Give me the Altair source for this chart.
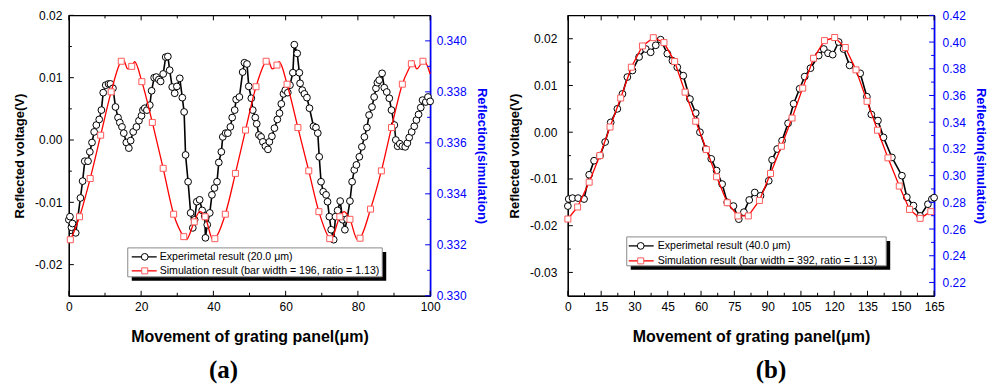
import altair as alt
import pandas as pd

FONT = "Liberation Sans"
SERIF = "Liberation Serif"
BLUE = "#0000ff"
RED = "#ff0000"
SQ = "#ff5a5a"

# ---------------- panel (a) ----------------
exp_a_x = [0.0, 0.3, 0.7, 1.0, 1.9, 3.2, 3.8, 4.4, 5.3, 5.8, 6.4, 7.0, 7.6, 8.4, 9.0, 9.5, 10.2, 11.0, 11.5, 12.2,
           12.9, 13.6, 14.1, 14.7, 15.2, 15.9, 16.6, 17.1, 17.8, 18.7, 19.4, 20.1, 20.5, 21.0, 21.6, 22.4, 22.9, 23.6,
           24.2, 24.9, 25.4, 26.1, 26.8, 27.4, 27.9, 28.6, 29.3, 29.9, 30.7, 31.4, 31.9, 32.3, 33.0, 33.7, 34.3, 34.8,
           35.4, 36.2, 36.9, 37.6, 37.8, 38.3, 39.0, 39.6, 40.3, 41.0, 41.5, 42.2, 42.6, 43.4, 44.0, 44.7, 45.2, 45.9,
           46.3, 47.2, 48.1, 48.6, 49.3, 49.8, 50.5, 50.9, 51.6, 52.0, 52.6, 53.2, 53.7, 54.4, 55.1, 55.5, 56.2, 56.9,
           57.7, 58.3, 58.8, 59.4, 59.9, 60.6, 61.2, 62.0, 62.4, 63.2, 63.8, 64.0, 64.6, 65.2, 65.9, 66.6, 67.7, 68.4,
           68.9, 69.3, 69.8, 70.4, 71.2, 71.6, 72.1, 72.6, 73.3, 73.8, 74.4, 75.1, 75.8, 76.4, 77.0, 77.8, 78.4, 79.0,
           79.6, 80.4, 81.1, 81.8, 82.5, 83.1, 83.9, 84.5, 85.0, 85.4, 85.9, 86.7, 87.3, 88.0, 88.7, 89.3, 90.1, 90.5,
           91.0, 91.6, 92.3, 93.1, 93.7, 94.2, 94.9, 95.6, 96.2, 96.8, 97.4, 97.9, 98.8, 99.4, 100.0]
exp_a_y = [-0.0128, -0.0123, -0.0140, -0.0134, -0.0149, -0.0093, -0.0066, -0.0034, -0.0034, -0.0019, -0.0004, 0.0013,
           0.0024, 0.0033, 0.0048, 0.0076, 0.0088, 0.0090, 0.0090, 0.0083, 0.0053, 0.0036, 0.0028, 0.0021, 0.0011,
           -0.0004, -0.0013, -0.0001, 0.0013, 0.0021, 0.0031, 0.0039, 0.0048, 0.0051, 0.0048, 0.0056, 0.0079, 0.0100,
           0.0101, 0.0097, 0.0094, 0.0106, 0.0133, 0.0134, 0.0112, 0.0085, 0.0075, 0.0086, 0.0099, 0.0068, 0.0045,
           -0.0024, -0.0067, -0.0117, -0.0141, -0.0128, -0.0099, -0.0096, -0.0113, -0.0122, -0.0157, -0.0136, -0.0117,
           -0.0088, -0.0077, -0.0067, -0.0036, -0.0019, 0.0005, 0.0011, 0.0011, 0.0021, 0.0036, 0.0048, 0.0065, 0.0069,
           0.0109, 0.0124, 0.0122, 0.0086, 0.0067, 0.0048, 0.0036, 0.0026, 0.0008, 0.0005, -0.0003, -0.0010, -0.0015,
           -0.0003, 0.0006, 0.0019, 0.0033, 0.0043, 0.0058, 0.0074, 0.0080, 0.0076, 0.0088, 0.0108, 0.0153, 0.0139,
           0.0108, 0.0091, 0.0080, 0.0074, 0.0068, 0.0051, 0.0022, 0.0020, 0.0011, -0.0027, -0.0067, -0.0083, -0.0088,
           -0.0099, -0.0123, -0.0144, -0.0160, -0.0123, -0.0113, -0.0098, -0.0128, -0.0144, -0.0127, -0.0098, -0.0067,
           -0.0048, -0.0040, -0.0027, -0.0011, 0.0005, 0.0020, 0.0040, 0.0053, 0.0069, 0.0083, 0.0092, 0.0096, 0.0107,
           0.0084, 0.0077, 0.0067, 0.0048, 0.0024, 0.0000, -0.0010, -0.0006, -0.0010, -0.0011, -0.0005, 0.0004, 0.0013,
           0.0022, 0.0032, 0.0041, 0.0052, 0.0064, 0.0061, 0.0069, 0.0062]

sim_a_line_x = [0.0, 0.4, 2.95, 5.9, 8.8, 11.7, 14.5, 15.1, 16.3, 17.4, 18.2, 20.2, 23.1, 26.1, 29.0, 31.8, 32.5,
                34.7, 36.2, 37.7, 39.9, 40.4, 43.3, 46.1, 48.9, 51.8, 54.6, 55.1, 56.3, 57.6, 58.2, 60.4, 63.4, 66.4,
                69.2, 72.2, 72.5, 75.0, 76.2, 77.8, 79.9, 80.6, 83.5, 86.5, 89.3, 92.3, 94.8, 95.2, 96.3, 98.0, 98.3,
                100.0]
sim_a_line_y = [0.3321, 0.3322, 0.3331, 0.3346, 0.3363, 0.3380, 0.3392, 0.33925, 0.3389, 0.3390, 0.33918, 0.3384,
                0.3368, 0.3350, 0.3332, 0.33232, 0.3322, 0.3329, 0.3333, 0.3331, 0.3322, 0.33224, 0.3332, 0.3348,
                0.3365, 0.3382, 0.3392, 0.33925, 0.3389, 0.33905, 0.33918, 0.3383, 0.3366, 0.3349, 0.3333, 0.33224,
                0.3322, 0.3331, 0.3333, 0.3330, 0.3322, 0.33226, 0.3334, 0.3349, 0.3366, 0.3383, 0.3391, 0.33922,
                0.3389, 0.3392, 0.33922, 0.3387]
sim_a_mark_x = [0.4, 2.95, 5.9, 8.8, 11.7, 14.5, 17.4, 20.2, 23.1, 26.1, 29.0, 31.8, 34.7, 37.7, 40.4, 43.3, 46.1,
                48.9, 51.8, 54.6, 57.6, 60.4, 63.4, 66.4, 69.2, 72.2, 75.0, 77.8, 80.6, 83.5, 86.5, 89.3, 92.3, 94.8,
                98.0]
sim_a_mark_y = [0.3322, 0.3331, 0.3346, 0.3363, 0.3380, 0.3392, 0.3390, 0.3384, 0.3368, 0.3350, 0.3332, 0.33232,
                0.3329, 0.3331, 0.33224, 0.3332, 0.3348, 0.3365, 0.3382, 0.3392, 0.33905, 0.3383, 0.3366, 0.3349,
                0.3333, 0.33224, 0.3331, 0.3330, 0.33226, 0.3334, 0.3349, 0.3366, 0.3383, 0.3391, 0.3392]

a_x_major = [0, 20, 40, 60, 80, 100]
a_x_minor = [10, 30, 50, 70, 90]
a_left_major = [-0.02, -0.01, 0.0, 0.01, 0.02]
a_left_minor = [-0.015, -0.005, 0.005, 0.015]
a_right_major = [0.330, 0.332, 0.334, 0.336, 0.338, 0.340]
a_right_minor = [0.331, 0.333, 0.335, 0.337, 0.339]
a_legend = ["Experimetal result (20.0 μm)", "Simulation result (bar width = 196, ratio = 1.13)"]

# ---------------- panel (b) ----------------
exp_b_x = [0.0, 0.4, 2.1, 4.6, 7.3, 9.6, 11.8, 14.5, 16.8, 19.3, 22.3, 24.6, 26.8, 29.1, 32.1, 35.1, 37.3, 39.6,
           41.8, 44.8, 47.1, 49.3, 52.0, 55.0, 57.6, 59.5, 62.1, 64.6, 67.0, 69.5, 71.8, 74.6, 77.0, 79.3, 81.7,
           84.2, 86.8, 90.5, 92.0, 94.3, 96.5, 99.2, 101.7, 104.4, 106.7, 109.3, 113.0, 115.3, 117.2, 119.3, 122.0,
           124.2, 126.9, 131.7, 134.7, 136.7, 139.7, 142.2, 146.0, 150.5, 152.7, 155.7, 158.7, 162.2, 164.0, 165.0]
exp_b_y = [-0.0158, -0.0143, -0.0141, -0.0141, -0.0143, -0.0091, -0.0061, -0.0050, -0.0021, 0.0021, 0.0050, 0.0082,
           0.0118, 0.0132, 0.0161, 0.0178, 0.0171, 0.0186, 0.0198, 0.0168, 0.0153, 0.0139, 0.0121, 0.0071, 0.0041,
           0.0000, -0.0036, -0.0057, -0.0082, -0.0111, -0.0150, -0.0158, -0.0186, -0.0171, -0.0145, -0.0129, -0.0136,
           -0.0104, -0.0059, -0.0036, -0.0018, 0.0019, 0.0061, 0.0093, 0.0119, 0.0137, 0.0164, 0.0178, 0.0169, 0.0166,
           0.0193, 0.0178, 0.0143, 0.0126, 0.0076, 0.0038, 0.0025, -0.0011, -0.0054, -0.0093, -0.0139, -0.0157,
           -0.0179, -0.0154, -0.0143, -0.0140]

sim_b_x = [0.0, 4.4, 9.6, 14.4, 19.0, 23.8, 28.6, 33.6, 38.5, 43.3, 48.1, 52.8, 57.6, 62.4, 67.0, 71.8, 76.6, 81.3,
           86.3, 91.3, 96.2, 101.0, 105.8, 110.7, 115.6, 120.2, 125.0, 129.8, 134.8, 139.5, 144.2, 149.3, 153.9,
           158.7, 163.5]
sim_b_y = [0.2675, 0.2765, 0.2951, 0.3150, 0.3364, 0.3581, 0.3812, 0.3971, 0.4033, 0.3996, 0.3854, 0.3625, 0.3407,
           0.3195, 0.2991, 0.2797, 0.2698, 0.2698, 0.2814, 0.3016, 0.3220, 0.3431, 0.3655, 0.3879, 0.4011, 0.4034,
           0.3959, 0.3792, 0.3556, 0.3340, 0.3133, 0.2922, 0.2747, 0.2680, 0.2730]

b_x_major = [0, 15, 30, 45, 60, 75, 90, 105, 120, 135, 150, 165]
b_x_minor = [7.5, 22.5, 37.5, 52.5, 67.5, 82.5, 97.5, 112.5, 127.5, 142.5, 157.5]
b_left_major = [-0.03, -0.02, -0.01, 0.0, 0.01, 0.02]
b_left_minor = [-0.025, -0.015, -0.005, 0.005, 0.015]
b_right_major = [0.22, 0.24, 0.26, 0.28, 0.30, 0.32, 0.34, 0.36, 0.38, 0.40, 0.42]
b_right_minor = [0.23, 0.25, 0.27, 0.29, 0.31, 0.33, 0.35, 0.37, 0.39, 0.41]
b_legend = ["Experimetal result (40.0 μm)", "Simulation result (bar width = 392, ratio = 1.13)"]

MINUS_FIX = "replace(datum.label, '\u2212', '-')"


def make_panel(exp_x, exp_y, sl_x, sl_y, sm_x, sm_y, xdom, xmaj, xmin, ldom, lmaj, lmin, lfmt,
               rdom, rmaj, rmin, rfmt, W, H, labels, leg, tag, tag_dx, left_lpad, right_lpad, sim_interp):
    exp_df = pd.DataFrame({"x": exp_x, "y": exp_y})
    sl_df = pd.DataFrame({"x": sl_x, "y": sl_y})
    sm_df = pd.DataFrame({"x": sm_x, "y": sm_y})

    xaxis = alt.Axis(values=xmaj, format="d", ticks=False, grid=False, domainColor="black", domainWidth=1.2,
                     labelFont=FONT, labelFontSize=12, labelColor="black", labelPadding=6, labelFlush=False,
                     labelOverlap=False, title="Movement of grating panel(μm)", titleFont=FONT, titleFontSize=16,
                     titleFontWeight="bold", titleColor="black", titlePadding=16)
    xsc = alt.Scale(domain=xdom, nice=False, zero=False)

    def X(field="x"):
        return alt.X(field + ":Q", scale=xsc, axis=xaxis)

    laxis = alt.Axis(orient="left", values=lmaj, format=lfmt, labelExpr=MINUS_FIX, ticks=False, grid=False,
                     domainColor="black", domainWidth=1.2, labelFont=FONT, labelFontSize=12, labelColor="black",
                     labelPadding=left_lpad, labelFlush=False, labelOverlap=False, title="Reflected voltage(V)",
                     titleFont=FONT, titleFontSize=13, titleFontWeight="bold", titleColor="black", titlePadding=8)
    lsc = alt.Scale(domain=ldom, nice=False, zero=False)
    raxis = alt.Axis(orient="right", values=rmaj, format=rfmt, ticks=False, grid=False, domainColor=BLUE,
                     domainWidth=1.6, labelFont=FONT, labelFontSize=12, labelColor=BLUE, labelPadding=right_lpad,
                     labelFlush=False, labelOverlap=False, title="Reflection(simulation)", titleFont=FONT,
                     titleFontSize=13, titleFontWeight="bold", titleColor=BLUE, titlePadding=8)
    rsc = alt.Scale(domain=rdom, nice=False, zero=False)

    def YL():
        return alt.Y("y:Q", scale=lsc, axis=laxis)

    def YR():
        return alt.Y("y:Q", scale=rsc, axis=raxis)

    exp_line = alt.Chart(exp_df).mark_line(color="black", strokeWidth=1.6).encode(x=X(), y=YL())
    exp_pts = alt.Chart(exp_df).mark_point(shape="circle", size=46, fill="white", fillOpacity=1, stroke="black",
                                           strokeWidth=1, opacity=1).encode(x=X(), y=YL())
    lt_maj = alt.Chart(pd.DataFrame({"y": lmaj})).mark_rule(color="black", strokeWidth=1).encode(
        y=YL(), x=alt.value(0), x2=alt.value(5))
    lt_min = alt.Chart(pd.DataFrame({"y": lmin})).mark_rule(color="black", strokeWidth=1).encode(
        y=YL(), x=alt.value(0), x2=alt.value(3))
    xt = []
    for vals, ln in ((xmaj, 5), (xmin, 3)):
        d = pd.DataFrame({"x": vals})
        xt.append(alt.Chart(d).mark_rule(color="black", strokeWidth=1).encode(
            x=X(), y=alt.value(H), y2=alt.value(H - ln)))
        xt.append(alt.Chart(d).mark_rule(color="black", strokeWidth=1).encode(
            x=X(), y=alt.value(0), y2=alt.value(ln)))
    left = alt.layer(exp_line, exp_pts, lt_maj, lt_min, *xt)

    sim_line = alt.Chart(sl_df).mark_line(color=RED, strokeWidth=1.3, interpolate=sim_interp).encode(x=X(), y=YR())
    sim_pts = alt.Chart(sm_df).mark_point(shape="square", size=36, fill="white", fillOpacity=1, stroke=SQ,
                                          strokeWidth=1, opacity=1).encode(x=X(), y=YR())
    rt_maj = alt.Chart(pd.DataFrame({"y": rmaj})).mark_rule(color=BLUE, strokeWidth=1).encode(
        y=YR(), x=alt.value(W), x2=alt.value(W - 5))
    rt_min = alt.Chart(pd.DataFrame({"y": rmin})).mark_rule(color=BLUE, strokeWidth=1).encode(
        y=YR(), x=alt.value(W), x2=alt.value(W - 3))
    right = alt.layer(sim_line, sim_pts, rt_maj, rt_min)

    # legend decoration (drawn with plain marks)
    one = pd.DataFrame({"k": [0]})
    bx0, bx1, by0, by1 = leg["box"]
    sh = leg["shadow"]
    deco = [
        alt.Chart(one).mark_rect(color="black").encode(
            x=alt.value(bx0 + sh), x2=alt.value(bx1 + sh), y=alt.value(by0 + sh), y2=alt.value(by1 + sh)),
        alt.Chart(one).mark_rect(fill="white", stroke="#8a8a8a", strokeWidth=1).encode(
            x=alt.value(bx0), x2=alt.value(bx1), y=alt.value(by0), y2=alt.value(by1)),
    ]
    styles = [("black", "circle", "black", 46), (RED, "square", SQ, 36)]
    for i, lab in enumerate(labels):
        ry = leg["rows"][i]
        lc, shp, sc, sz = styles[i]
        deco.append(alt.Chart(one).mark_rule(color=lc, strokeWidth=1.3).encode(
            x=alt.value(leg["line"][0]), x2=alt.value(leg["line"][1]), y=alt.value(ry)))
        deco.append(alt.Chart(one).mark_point(shape=shp, size=sz, fill="white", fillOpacity=1, stroke=sc,
                                              strokeWidth=1, opacity=1).encode(
            x=alt.value(leg["sym"]), y=alt.value(ry)))
        deco.append(alt.Chart(pd.DataFrame({"label": [lab]})).mark_text(
            align="left", baseline="middle", font=FONT, fontSize=10.6, color="black").encode(
            x=alt.value(leg["text"]), y=alt.value(ry), text="label:N"))

    return alt.layer(left, right, *deco).resolve_scale(y="independent").properties(
        width=W, height=H,
        title=alt.TitleParams(text=tag, orient="bottom", anchor="middle", font=SERIF, fontSize=25,
                              fontWeight="bold", color="black", offset=13, dx=tag_dx))


panel_a = make_panel(exp_a_x, exp_a_y, sim_a_line_x, sim_a_line_y, sim_a_mark_x, sim_a_mark_y,
                     [0, 100], a_x_major, a_x_minor, [-0.025, 0.02], a_left_major, a_left_minor, ".2f",
                     [0.330, 0.341], a_right_major, a_right_minor, ".3f", 362, 281, a_legend,
                     {"box": (59, 314, 233, 262), "shadow": 4, "rows": (242, 256), "line": (63, 88), "sym": 76,
                      "text": 91}, "(a)", -26, 7, 6, "monotone")

panel_b = make_panel(exp_b_x, exp_b_y, sim_b_x, sim_b_y, sim_b_x, sim_b_y,
                     [0, 165], b_x_major, b_x_minor, [-0.035, 0.025], b_left_major, b_left_minor, ".2f",
                     [0.21, 0.42], b_right_major, b_right_minor, ".2f", 367, 281, b_legend,
                     {"box": (59, 319, 222, 251), "shadow": 4, "rows": (231, 246), "line": (61, 86), "sym": 73,
                      "text": 90}, "(b)", 20, 11, 8, "linear")

chart = alt.hconcat(panel_a, panel_b, spacing=20).configure_view(
    stroke="black", strokeWidth=1.2).properties(
    padding={"left": 5, "top": 0, "right": 5, "bottom": 0}, background="white")

chart.save("out.html", embed_options={"renderer": "svg", "actions": False})
